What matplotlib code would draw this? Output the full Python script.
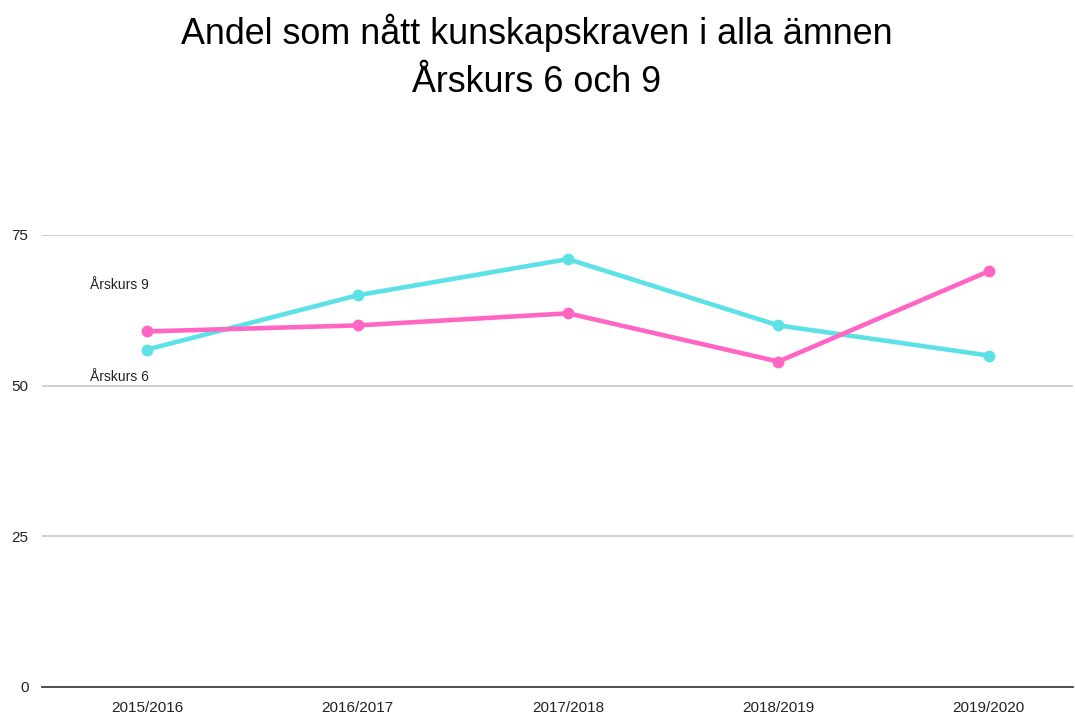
import matplotlib
matplotlib.use("Agg")
import matplotlib.pyplot as plt

plt.rcParams['font.family'] = ['Liberation Sans', 'DejaVu Sans']

categories = ["2015/2016", "2016/2017", "2017/2018", "2018/2019", "2019/2020"]
arskurs9 = [56, 65, 71, 60, 55]
arskurs6 = [59, 60, 62, 54, 69]
yticks = [0, 25, 50, 75]

fig = plt.figure(figsize=(10.75, 7.13), dpi=100)
ax = fig.add_axes([42/1075, 26/713, 1031/1075, 452/713])
x = list(range(len(categories)))
ax.plot(x, arskurs9, color="#5ce1e6", lw=3.3, marker="o", ms=7.5, solid_capstyle="round", zorder=3)
ax.plot(x, arskurs6, color="#ff66c4", lw=3.3, marker="o", ms=7.5, solid_capstyle="round", zorder=3)

ax.set_xlim(-0.5, 4.4)
ax.set_ylim(0, 75)
ax.set_yticks(yticks)
ax.set_xticks(x)
ax.set_xticklabels(categories)
ax.tick_params(length=0, labelsize=11, colors="#222222")
ax.tick_params(axis='y', pad=13)
ax.tick_params(axis='x', pad=10)
for s in ["top", "right", "left"]:
    ax.spines[s].set_visible(False)
ax.spines["bottom"].set_color("#444444")
ax.spines["bottom"].set_linewidth(1.3)
ax.grid(axis='y', color="#c8c8c8", lw=1.2)
ax.set_axisbelow(True)
for lab in ax.get_yticklabels():
    lab.set_horizontalalignment('left')
    lab.set_x(-0.0)

# place y tick labels right-aligned near x=28px
for lab in ax.get_yticklabels():
    lab.set_horizontalalignment('right')
ax.tick_params(axis='y', pad=14)

ax.text(-0.27, 66.7, "Årskurs 9", fontsize=10, va="center", ha="left", color="#222222")
ax.text(-0.27, 51.4, "Årskurs 6", fontsize=10, va="center", ha="left", color="#222222")

fig.text(537/1075, 1 - 33/713, "Andel som nått kunskapskraven i alla ämnen", fontsize=25.8, ha="center", va="center")
fig.text(537/1075, 1 - 82/713, "Årskurs 6 och 9", fontsize=25.8, ha="center", va="center")

fig.canvas.draw()
# shift y tick labels so their right edge sits about 28px from the left
from matplotlib.transforms import ScaledTranslation
offset = ScaledTranslation(6/100, 0, fig.dpi_scale_trans)
for lab in ax.get_yticklabels():
    lab.set_transform(lab.get_transform() + offset)

fig.savefig("out.png", dpi=100, facecolor="white")
